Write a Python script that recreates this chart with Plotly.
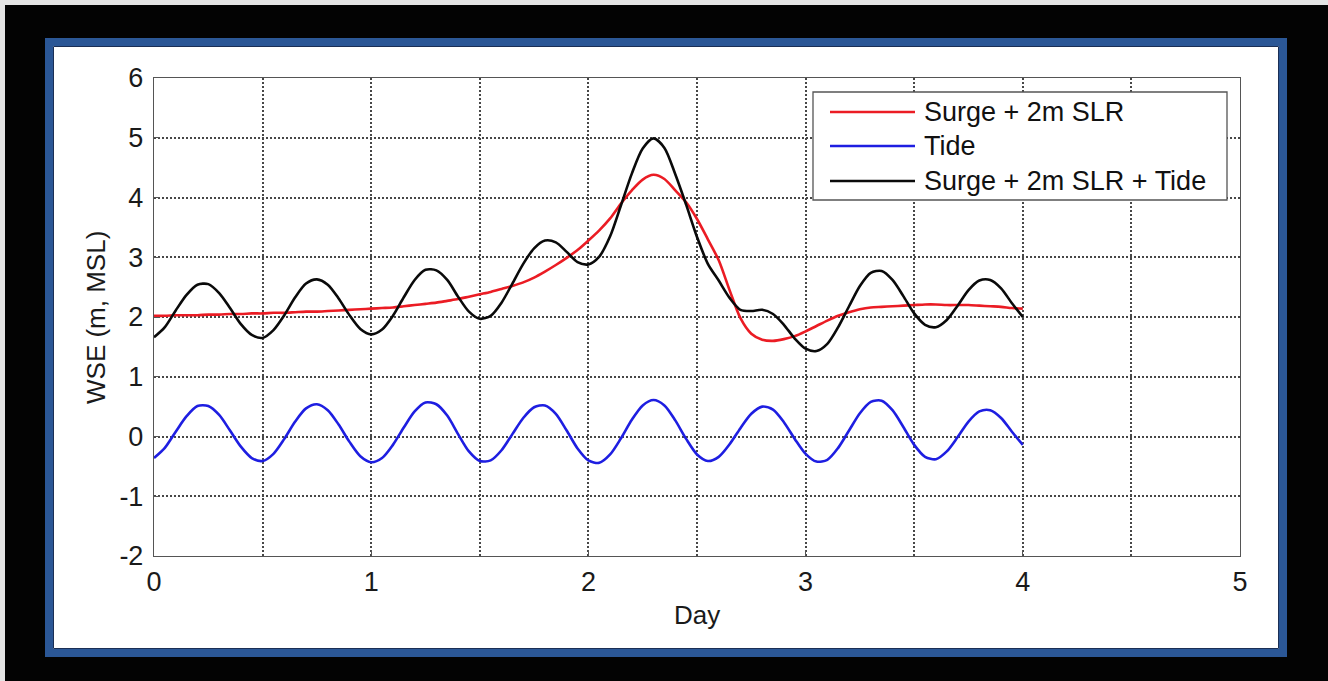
import plotly.graph_objects as go

# Time axis (days) and water surface elevations (m, MSL)
day = [0.00, 0.05, 0.10, 0.15, 0.20, 0.25, 0.30, 0.35, 0.40, 0.45,
       0.50, 0.55, 0.60, 0.65, 0.70, 0.75, 0.80, 0.85, 0.90, 0.95,
       1.00, 1.05, 1.10, 1.15, 1.20, 1.25, 1.30, 1.35, 1.40, 1.45,
       1.50, 1.55, 1.60, 1.65, 1.70, 1.75, 1.80, 1.85, 1.90, 1.95,
       2.00, 2.05, 2.10, 2.15, 2.20, 2.25, 2.30, 2.35, 2.40, 2.45,
       2.50, 2.55, 2.60, 2.65, 2.70, 2.75, 2.80, 2.85, 2.90, 2.95,
       3.00, 3.05, 3.10, 3.15, 3.20, 3.25, 3.30, 3.35, 3.40, 3.45,
       3.50, 3.55, 3.60, 3.65, 3.70, 3.75, 3.80, 3.85, 3.90, 3.95,
       4.00]

surge_slr = [2.02, 2.02, 2.03, 2.03, 2.03, 2.04, 2.04, 2.05, 2.05, 2.06,
             2.06, 2.07, 2.07, 2.08, 2.09, 2.09, 2.10, 2.11, 2.12, 2.13,
             2.14, 2.15, 2.16, 2.18, 2.20, 2.22, 2.24, 2.27, 2.30, 2.34,
             2.38, 2.42, 2.47, 2.52, 2.58, 2.66, 2.76, 2.87, 2.99, 3.12,
             3.28, 3.45, 3.65, 3.90, 4.12, 4.30, 4.38, 4.31, 4.12, 3.92,
             3.64, 3.30, 2.95, 2.45, 1.98, 1.72, 1.62, 1.60, 1.63, 1.68,
             1.76, 1.85, 1.94, 2.02, 2.08, 2.13, 2.16, 2.17, 2.18, 2.19,
             2.20, 2.21, 2.21, 2.20, 2.20, 2.20, 2.19, 2.18, 2.17, 2.15,
             2.14]

tide = [-0.36, -0.19, 0.08, 0.34, 0.51, 0.51, 0.36, 0.10, -0.17, -0.36,
        -0.41, -0.29, -0.04, 0.25, 0.47, 0.54, 0.44, 0.20, -0.09, -0.33,
        -0.43, -0.36, -0.14, 0.15, 0.42, 0.57, 0.54, 0.35, 0.04, -0.25,
        -0.41, -0.40, -0.23, 0.04, 0.31, 0.49, 0.52, 0.38, 0.10, -0.20,
        -0.40, -0.44, -0.30, -0.03, 0.28, 0.52, 0.61, 0.52, 0.27, -0.04,
        -0.30, -0.41, -0.34, -0.13, 0.14, 0.38, 0.50, 0.45, 0.24, -0.04,
        -0.29, -0.42, -0.39, -0.19, 0.10, 0.39, 0.58, 0.60, 0.44, 0.16,
        -0.14, -0.34, -0.38, -0.25, -0.01, 0.25, 0.42, 0.44, 0.31, 0.08,
        -0.14]

surge_slr_tide = [1.66, 1.83, 2.11, 2.37, 2.54, 2.55, 2.40, 2.15, 1.88, 1.70,
                  1.65, 1.78, 2.03, 2.33, 2.56, 2.63, 2.54, 2.31, 2.03, 1.80,
                  1.71, 1.79, 2.02, 2.33, 2.62, 2.79, 2.78, 2.62, 2.34, 2.09,
                  1.97, 2.02, 2.24, 2.56, 2.89, 3.15, 3.28, 3.25, 3.09, 2.92,
                  2.88, 3.01, 3.35, 3.87, 4.40, 4.82, 4.99, 4.83, 4.39, 3.88,
                  3.34, 2.89, 2.61, 2.32, 2.12, 2.10, 2.12, 2.05, 1.87, 1.64,
                  1.47, 1.43, 1.55, 1.83, 2.18, 2.52, 2.74, 2.77, 2.62, 2.35,
                  2.06, 1.87, 1.83, 1.95, 2.19, 2.45, 2.61, 2.62, 2.48, 2.23,
                  2.00]

series_names = ["Surge + 2m SLR", "Tide", "Surge + 2m SLR + Tide"]
series_colors = ["rgb(235,28,36)", "rgb(30,30,225)", "rgb(10,10,10)"]
series_values = [surge_slr, tide, surge_slr_tide]

x_ticks = [0, 1, 2, 3, 4, 5]
y_ticks = [-2, -1, 0, 1, 2, 3, 4, 5, 6]

W, H = 1328, 681
L, R, T, B = 154, 1240, 78, 556
FONT = "Liberation Sans, Arial, Helvetica, sans-serif"


def fx(px):
    return (px - L) / (R - L)


def fy(py):
    return (B - py) / (B - T)


fig = go.Figure()
for name, color, vals in zip(series_names, series_colors, series_values):
    fig.add_trace(go.Scatter(
        x=day, y=vals, name=name, mode="lines",
        line=dict(color=color, width=2.6, shape="spline", smoothing=0.8),
        showlegend=False,
    ))

shapes = [
    # dark surround
    dict(type="rect", xref="paper", yref="paper", layer="below",
         x0=fx(5), x1=fx(W + 5), y0=fy(5), y1=fy(H + 5),
         fillcolor="#030303", line=dict(width=0)),
    # blue framed panel
    dict(type="rect", xref="paper", yref="paper", layer="below",
         x0=fx(49), x1=fx(1283), y0=fy(42), y1=fy(653),
         fillcolor="white", line=dict(color="#2b5796", width=8)),
    # thin dark inner edge of the frame
    dict(type="rect", xref="paper", yref="paper", layer="below",
         x0=fx(53.5), x1=fx(1278.5), y0=fy(46.5), y1=fy(648.5),
         fillcolor="rgba(0,0,0,0)", line=dict(color="#1b2f55", width=1)),
    # legend box
    dict(type="rect", xref="paper", yref="paper", layer="above",
         x0=fx(813), x1=fx(1227), y0=fy(92), y1=fy(200),
         fillcolor="white", line=dict(color="#555555", width=1.3)),
]

annotations = []
legend_rows = [112, 146, 181]
for name, color, ry in zip(series_names, series_colors, legend_rows):
    shapes.append(dict(type="line", xref="paper", yref="paper", layer="above",
                       x0=fx(830), x1=fx(915), y0=fy(ry), y1=fy(ry),
                       line=dict(color=color, width=2.6)))
    annotations.append(dict(xref="paper", yref="paper", x=fx(922), y=fy(ry),
                            text=name, showarrow=False, xanchor="left",
                            yanchor="middle",
                            font=dict(family=FONT, size=27, color="#111")))

annotations.append(dict(xref="paper", yref="paper", x=fx(697), y=fy(615),
                        text="Day", showarrow=False, xanchor="center",
                        yanchor="middle",
                        font=dict(family=FONT, size=26, color="#1a1a1a")))
annotations.append(dict(xref="paper", yref="paper", x=fx(96), y=fy(318),
                        text="WSE (m, MSL)", showarrow=False, textangle=-90,
                        xanchor="center", yanchor="middle",
                        font=dict(family=FONT, size=26, color="#1a1a1a")))

grid_style = dict(gridcolor="#474747", gridwidth=1.8, griddash="2px,2px")

fig.update_layout(
    width=W, height=H,
    margin=dict(l=L, r=W - R, t=T, b=H - B, pad=0),
    paper_bgcolor="#e4e4e4",
    plot_bgcolor="white",
    shapes=shapes,
    annotations=annotations,
    font=dict(family=FONT, size=27, color="#1a1a1a"),
    xaxis=dict(
        range=[0, 5], tickvals=x_ticks, ticktext=[str(v) for v in x_ticks],
        showgrid=True, **grid_style, zeroline=False,
        minor=dict(dtick=0.5, showgrid=True, **grid_style, ticks=""),
        showline=True, mirror=True, linecolor="#555555", linewidth=1.4,
        ticks="inside", ticklen=6, tickcolor="#555555",
        ticklabelstandoff=1,
        tickfont=dict(family=FONT, size=27, color="#1a1a1a"),
    ),
    yaxis=dict(
        range=[-2, 6], tickvals=y_ticks, ticktext=[str(v) for v in y_ticks],
        showgrid=True, **grid_style, zeroline=False,
        showline=True, mirror=True, linecolor="#555555", linewidth=1.4,
        ticks="inside", ticklen=6, tickcolor="#555555",
        ticklabelstandoff=4,
        tickfont=dict(family=FONT, size=27, color="#1a1a1a"),
    ),
)

fig.write_html("out.html")
